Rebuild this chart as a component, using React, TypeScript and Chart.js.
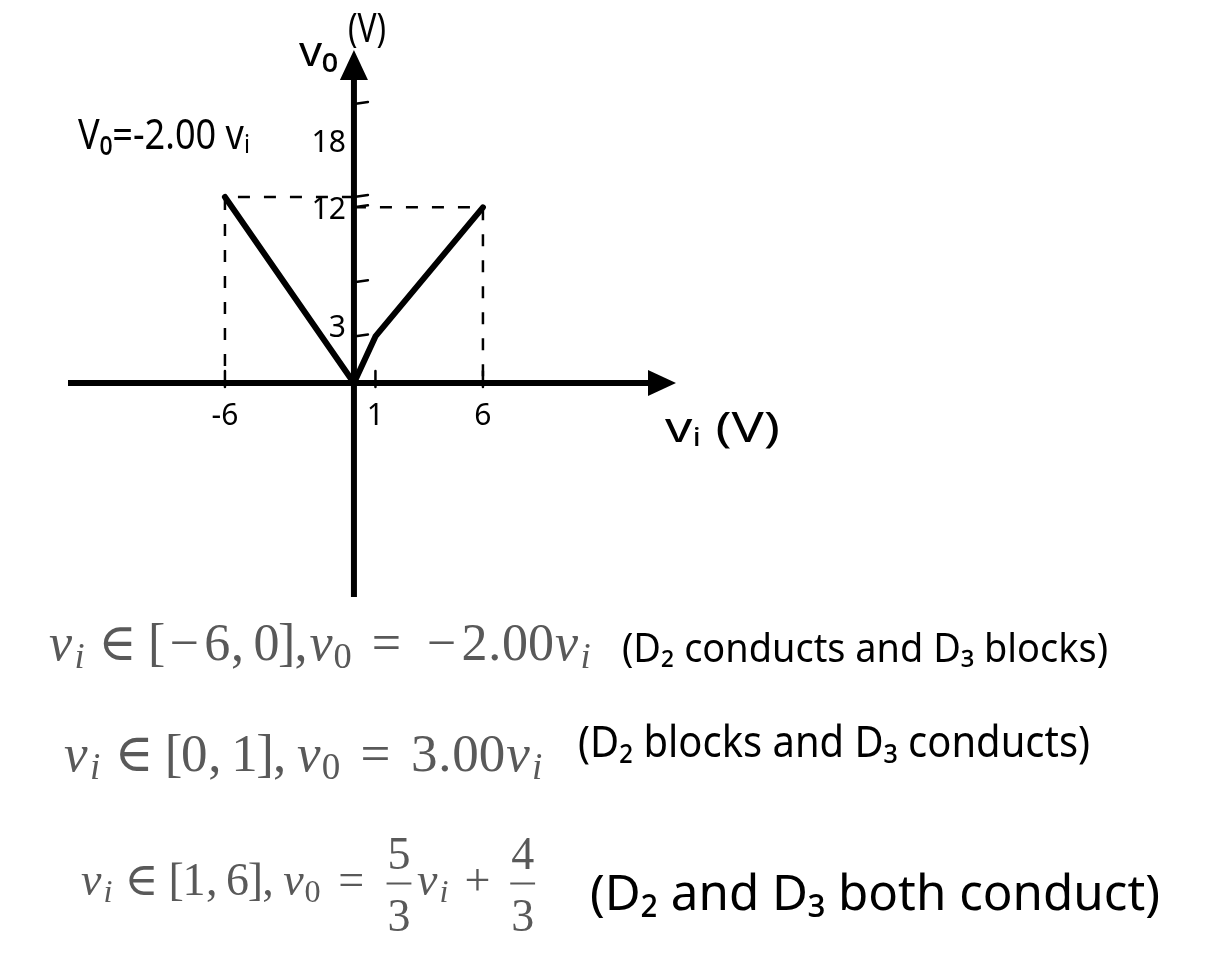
import React, { useEffect, useRef } from "react";
import { Chart, registerables } from "chart.js";

Chart.register(...registerables);

// ---- data ----
const breakX = [-6, 0, 1, 6];
const breakY = [12, 0, 3, 11.33];
const xTickValues = [-6, 1, 6];
const xTickLabels = ["-6", "1", "6"];
const yTickMarks = [3, 6.5, 11.33, 12, 18];
const yTickValues = [3, 12, 18];
const yTickLabels = ["3", "12", "18"];
const regionNotes = [
  "(D\u2082 conducts and D\u2083 blocks)",
  "(D\u2082 blocks and D\u2083 conducts)",
  "(D\u2082 and D\u2083 both conduct)",
];

const HAND = '"Noto Sans", "DejaVu Sans", sans-serif';
const SERIF = '"Liberation Serif", "DejaVu Serif", serif';
const MATH_COLOR = "#595959";

type Tok = { c?: string; it?: boolean; sub?: boolean; adv?: number; sp?: number; frac?: [string, string] };

// TeX-like advance widths (em)
const NARROW = new Set([".", ",", "[", "]"]);
const tv: Tok = { c: "v", it: true, adv: 0.485 };
const ti: Tok = { c: "i", it: true, sub: true, adv: 0.345 };
const t0s: Tok = { c: "0", sub: true, adv: 0.5 };
const TH: Tok = { sp: 0.278 };
const MED: Tok = { sp: 0.222 };
const THIN: Tok = { sp: 0.167 };
const chars = (s: string): Tok[] => Array.from(s).map((c) => ({ c, adv: NARROW.has(c) ? 0.278 : 0.5 }));
const op = (c: string): Tok => ({ c, adv: c === "\u2208" ? 0.667 : 0.778 });

function typeset(ctx: CanvasRenderingContext2D, x: number, base: number, em: number, toks: Tok[]) {
  let cx = x;
  for (const t of toks) {
    if (t.sp) {
      cx += t.sp * em;
      continue;
    }
    if (t.frac) {
      const w = 0.74 * em;
      ctx.font = `${em}px ${SERIF}`;
      const wn = ctx.measureText(t.frac[0]).width;
      const wd = ctx.measureText(t.frac[1]).width;
      ctx.fillText(t.frac[0], cx + (w - wn) / 2, base - 0.565 * em);
      ctx.fillText(t.frac[1], cx + (w - wd) / 2, base + 0.79 * em);
      ctx.fillRect(cx + 0.1 * em, base - 0.25 * em - 1, 0.54 * em, 2);
      cx += w;
      continue;
    }
    const size = t.sub ? em * 0.7 : em;
    ctx.font = `${t.it ? "italic " : ""}${size}px ${SERIF}`;
    const w = ctx.measureText(t.c as string).width;
    const a = (t.adv as number) * size;
    ctx.fillText(t.c as string, cx + (a - w) / 2, base + (t.sub ? 0.15 * em : 0));
    cx += a;
  }
  return cx;
}

function fitText(ctx: CanvasRenderingContext2D, text: string, x: number, y: number, size: number, width: number) {
  ctx.font = `${size}px ${HAND}`;
  const w = ctx.measureText(text).width;
  ctx.save();
  ctx.translate(x, y);
  ctx.scale(width / w, 1);
  ctx.fillText(text, 0, 0);
  ctx.restore();
}

const handPlugin = {
  id: "handAxes",
  beforeDatasetsDraw(chart: any) {
    const { ctx, chartArea } = chart;
    const xs = chart.scales.x;
    const ys = chart.scales.y;
    const x0 = xs.getPixelForValue(0);
    const y0 = ys.getPixelForValue(0);
    ctx.save();
    ctx.strokeStyle = "#000";
    ctx.fillStyle = "#000";
    ctx.lineWidth = 6;
    ctx.lineCap = "butt";
    ctx.beginPath();
    ctx.moveTo(chartArea.left, y0);
    ctx.lineTo(chartArea.right - 24, y0);
    ctx.stroke();
    ctx.beginPath();
    ctx.moveTo(chartArea.right, y0);
    ctx.lineTo(chartArea.right - 28, y0 - 13);
    ctx.lineTo(chartArea.right - 28, y0 + 13);
    ctx.closePath();
    ctx.fill();
    ctx.beginPath();
    ctx.moveTo(x0, chartArea.bottom);
    ctx.lineTo(x0, chartArea.top + 26);
    ctx.stroke();
    ctx.beginPath();
    ctx.moveTo(x0, chartArea.top);
    ctx.lineTo(x0 - 14, chartArea.top + 30);
    ctx.lineTo(x0 + 14, chartArea.top + 30);
    ctx.closePath();
    ctx.fill();
    ctx.lineWidth = 2.5;
    ctx.lineCap = "round";
    for (const v of xTickValues) {
      const px = xs.getPixelForValue(v);
      ctx.beginPath();
      ctx.moveTo(px, y0 - 12);
      ctx.lineTo(px, y0 + 4);
      ctx.stroke();
    }
    for (const v of yTickMarks) {
      const py = ys.getPixelForValue(v);
      ctx.beginPath();
      ctx.moveTo(x0, py);
      ctx.lineTo(x0 + 14, py - 2);
      ctx.stroke();
    }
    ctx.restore();
  },
  afterDraw(chart: any) {
    const { ctx } = chart;
    const xs = chart.scales.x;
    const ys = chart.scales.y;
    const x0 = xs.getPixelForValue(0);
    const y0 = ys.getPixelForValue(0);
    ctx.save();
    ctx.fillStyle = "#000";
    // tick labels
    ctx.font = `30px ${HAND}`;
    ctx.textAlign = "center";
    ctx.textBaseline = "middle";
    xTickValues.forEach((v, i) => {
      ctx.fillText(xTickLabels[i], xs.getPixelForValue(v), y0 + 34);
    });
    ctx.textAlign = "right";
    const labelShift: Record<string, number> = { "3": -8, "12": 14, "18": 40 };
    yTickValues.forEach((v, i) => {
      const lab = yTickLabels[i];
      ctx.fillText(lab, x0 - 8, ys.getPixelForValue(v) + (labelShift[lab] ?? 0));
    });
    ctx.textAlign = "left";
    ctx.textBaseline = "alphabetic";
    // axis labels
    fitText(ctx, "v\u2080", 299, 66, 42, 39);
    fitText(ctx, "(V)", 348, 42, 40, 38);
    fitText(ctx, "v\u1D62 (V)", 665, 442, 42, 115);
    fitText(ctx, "V\u2080=-2.00 v\u1D62", 78, 149, 42, 172);
    // handwritten notes
    fitText(ctx, regionNotes[0], 622, 662, 40, 486);
    fitText(ctx, regionNotes[1], 578, 757, 44, 512);
    fitText(ctx, regionNotes[2], 590, 910, 50, 570);
    // formulas
    ctx.fillStyle = MATH_COLOR;
    typeset(ctx, 48, 660, 52, [
      tv, ti, TH, op("\u2208"), TH,
      ...chars("["), op("\u2212"), ...chars("6,"), THIN, ...chars("0],"),
      tv, t0s, TH, op("="), TH,
      op("\u2212"), ...chars("2.00"), tv, ti,
    ]);
    typeset(ctx, 63, 771, 53, [
      tv, ti, TH, op("\u2208"), TH,
      ...chars("[0,"), THIN, ...chars("1],"), THIN,
      tv, t0s, TH, op("="), TH,
      ...chars("3.00"), tv, ti,
    ]);
    typeset(ctx, 80, 895, 46, [
      tv, ti, TH, op("\u2208"), TH,
      ...chars("[1,"), THIN, ...chars("6],"), THIN,
      tv, t0s, TH, op("="), TH,
      { frac: ["5", "3"] }, tv, ti,
      MED, op("+"), MED,
      { frac: ["4", "3"] },
    ]);
    ctx.restore();
  },
};

export default function App() {
  const ref = useRef<HTMLCanvasElement | null>(null);
  useEffect(() => {
    if (!ref.current) return;
    const mainPts = breakX.map((x, i) => ({ x, y: breakY[i] }));
    const leftDash = [
      { x: 0, y: breakY[0] },
      { x: breakX[0], y: breakY[0] },
      { x: breakX[0], y: 0 },
    ];
    const n = breakX.length - 1;
    const rightDash = [
      { x: 0, y: breakY[n] },
      { x: breakX[n], y: breakY[n] },
      { x: breakX[n], y: 0 },
    ];
    const chart = new Chart(ref.current, {
      type: "scatter",
      data: {
        datasets: [
          {
            data: leftDash,
            showLine: true,
            borderColor: "#000",
            borderWidth: 2.5,
            borderDash: [12, 14],
            pointRadius: 0,
          },
          {
            data: rightDash,
            showLine: true,
            borderColor: "#000",
            borderWidth: 2.5,
            borderDash: [12, 14],
            pointRadius: 0,
          },
          {
            data: mainPts,
            showLine: true,
            borderColor: "#000",
            borderWidth: 6,
            pointRadius: 0,
            borderCapStyle: "round",
            borderJoinStyle: "round",
          },
        ],
      },
      options: {
        animation: false,
        responsive: false,
        events: [],
        layout: { padding: { left: 68, right: 1205 - 676, top: 50, bottom: 953 - 597 } },
        plugins: { legend: { display: false }, tooltip: { enabled: false } },
        scales: {
          x: { type: "linear", display: false, min: -13.3, max: 14.98 },
          y: { type: "linear", display: false, min: -13.81, max: 21.48 },
        },
      },
      plugins: [handPlugin],
    } as any);
    return () => chart.destroy();
  }, []);
  return (
    <div style={{ position: "absolute", left: 0, top: 0, width: 1205, height: 953, background: "#fff" }}>
      <canvas ref={ref} width={1205} height={953} />
    </div>
  );
}
